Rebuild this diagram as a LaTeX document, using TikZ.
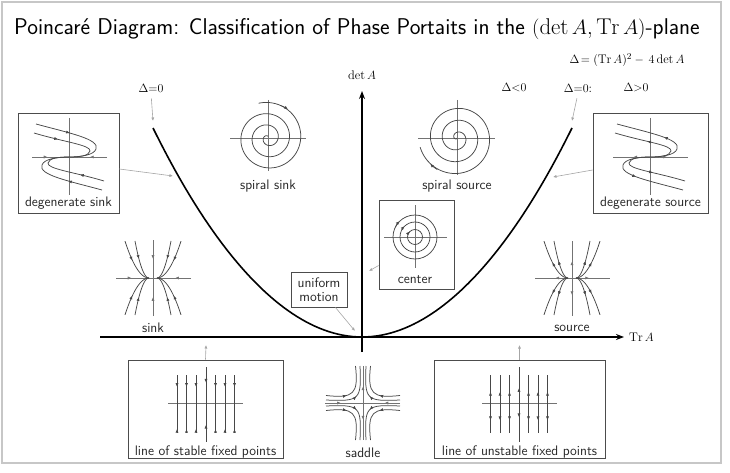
\documentclass[tikz,border=0pt]{standalone}
\usepackage{fontspec}
\usetikzlibrary{arrows.meta,decorations.markings}
\tikzset{
  >={Latex[length=3.8pt,width=3.2pt]},
  ma/.style={postaction={decorate},decoration={markings,mark=at position #1 with {\arrow{>}}}},
  mr/.style={postaction={decorate},decoration={markings,mark=at position #1 with {\arrowreversed{>}}}},
  fps/.style 2 args={postaction={decorate},decoration={markings,mark=at position #1 with {\arrow{>}},mark=at position #2 with {\arrowreversed{>}}}},
  fpu/.style 2 args={postaction={decorate},decoration={markings,mark=at position #1 with {\arrowreversed{>}},mark=at position #2 with {\arrow{>}}}},
  traj/.style={draw=black!72,line width=0.75pt},
  pax/.style={draw=black!55,line width=0.75pt},
  box/.style={draw=black!70,line width=0.8pt,inner sep=0pt},
  lbl/.style={font=\sffamily\fontsize{13.8}{15.5}\selectfont,inner sep=1pt,text=black!85},
  mlbl/.style={font=\fontsize{12.5}{14}\selectfont,inner sep=1pt},
  pointer/.style={draw=black!35,line width=0.6pt,-{Latex[length=3.5pt,width=3pt]}},
  mainax/.style={line width=1.5pt,-{Stealth[length=8pt,width=6pt]}},
}
\begin{document}
\begin{tikzpicture}[x=1pt,y=-1pt]
\useasboundingbox (0,0) rectangle (730,473);
% frame
\coordinate (frA) at (2,2); \coordinate (frB) at (721,463);
\draw[black!22,line width=1.5pt] (frA) rectangle (frB);

% title
\node[anchor=base west,font=\sffamily\fontsize{22.8}{25}\selectfont,inner sep=0pt] (title) at (14,35)
 {Poincaré Diagram: Classification of Phase Portaits in the $(\det A, \mathrm{Tr}\,A)$-plane};

% formula and labels
\node[mlbl] (delta) at (627,60) {$\Delta\!= (\mathrm{Tr}\,A)^2 -\, 4\det A$};
\node[mlbl] (detA) at (362,75) {$\det A$};
\node[mlbl] (d0L) at (151,88) {$\Delta{=}0$};
\node[mlbl] (dneg) at (514,88) {$\Delta{<}0$};
\node[mlbl] (d0R) at (578,88) {$\Delta{=}0$:};
\node[mlbl] (dpos) at (636,88) {$\Delta{>}0$};

% axes
\coordinate (O) at (362,337);
\coordinate (xL) at (100,337); \coordinate (xR) at (624,337);
\coordinate (yB) at (362,352); \coordinate (yT) at (362,91);
\draw[mainax] (xL) -- (xR);
\draw[mainax] (yB) -- (yT);
\node[mlbl,anchor=west] (trA) at (628,337) {$\mathrm{Tr}\,A$};

% parabola
\coordinate (pL0) at (153,128); \coordinate (pR0) at (572,128);
\draw[line width=1.6pt] (pL0) parabola bend (O) (pR0);

% pointers Delta=0
\coordinate (pL) at (153,121); \coordinate (pR) at (572,121);
\draw[pointer,shorten <=5pt] (d0L.south) -- (pL);
\draw[pointer,shorten <=5pt] (d0R.south) -- (pR);

% ---------- degenerate sink ----------
\node[box,minimum width=101pt,minimum height=100pt] (dsink) at (68.5,163) {};
\node[lbl] (dsinkL) at (68.5,203) {degenerate sink};
\begin{scope}[shift={(69,157)}]
  \draw[pax] (0,-39) -- (0,38);
  \draw[pax,ma=0.42] (-37,0) -- (0,0);
  \draw[pax,ma=0.45] (38,0) -- (0,0);
  \foreach \r in {0,180}{
  \begin{scope}[rotate=\r]
  \draw[traj,ma=0.36] (-33,-33) .. controls (0,-24) and (31,-18) .. (27,-8) .. controls (25,-2) and (12,0) .. (0,0);
  \draw[traj,ma=0.3] (-35,-24) .. controls (-5,-15) and (22,-12) .. (21,-6) .. controls (20,-1) and (10,0) .. (0,0);
  \end{scope}}
\end{scope}
\coordinate (dsT) at (173,176);
\draw[pointer] ([yshift=-6pt]dsink.east) -- (dsT);

% ---------- degenerate source ----------
\node[box,minimum width=115pt,minimum height=100pt] (dsrc) at (650.5,163) {};
\node[lbl] (dsrcL) at (650.5,203) {degenerate source};
\begin{scope}[shift={(650,157)}]
  \draw[pax] (0,-39) -- (0,38);
  \draw[pax,ma=0.45] (0,0) -- (-37,0);
  \draw[pax,ma=0.45] (0,0) -- (38,0);
  \foreach \r in {0,180}{
  \begin{scope}[rotate=\r]
  \draw[traj,mr=0.5] (-33,-33) .. controls (0,-24) and (31,-18) .. (27,-8) .. controls (25,-2) and (12,0) .. (0,0);
  \draw[traj,mr=0.4] (-35,-24) .. controls (-5,-15) and (22,-12) .. (21,-6) .. controls (20,-1) and (10,0) .. (0,0);
  \end{scope}}
\end{scope}
\coordinate (dsrcT) at (553,177);
\draw[pointer] ([yshift=-7pt]dsrc.west) -- (dsrcT);

% ---------- spiral sink ----------
\begin{scope}[shift={(268,138)}]
  \draw[pax] (-38,0) -- (38,0);
  \draw[pax] (0,-38) -- (0,33);
  \draw[traj] plot[domain=255:1355,samples=240]
    ({(1-(\x-255)/1150)*36*cos(\x)},{(1-(\x-255)/1150)*36*sin(\x)});
  \draw[traj,->] (292:34.9) arc[start angle=292,end angle=305,radius=34.6];
\end{scope}
\node[lbl] (ssinkL) at (268,186) {spiral sink};

% ---------- spiral source ----------
\begin{scope}[shift={(457,138)}]
  \draw[pax] (-39,0) -- (38,0);
  \draw[pax] (0,-38) -- (0,37);
  \draw[traj] plot[domain=96:1246,samples=240]
    ({((\x-96)/1150)*38*cos(\x)},{((\x-96)/1150)*38*sin(\x)});
  \draw[traj,->] (122:37.2) arc[start angle=122,end angle=136,radius=37.3];
\end{scope}
\node[lbl] (ssrcL) at (457,186) {spiral source};

% ---------- center ----------
\node[box,minimum width=75pt,minimum height=89pt] (cbox) at (416.5,244.5) {};
\node[lbl] (centerL) at (415,280) {center};
\begin{scope}[shift={(415,237)}]
  \draw[pax] (-31,0) -- (32,0);
  \draw[pax] (0,-32) -- (0,31);
  \foreach \r in {7.5,15,22}{
    \draw[traj] (0,0) circle[radius=\r];
    \draw[traj,->] (208:\r) arc[start angle=208,end angle=226,radius=\r];
  }
\end{scope}
\coordinate (cT) at (369,271);
\draw[pointer] ([yshift=-21pt]cbox.west) -- (cT);

% ---------- uniform motion ----------
\node[box,minimum width=56pt,minimum height=35pt,align=center,lbl,inner sep=0pt] (unif) at (319,289.5) {uniform\\[-2pt]motion};
\coordinate (uT) at (355,331);
\draw[pointer] ([xshift=-12pt]unif.south east) -- (uT);

% ---------- sink ----------
\begin{scope}[shift={(153,278)}]
  \draw[pax,ma=0.42] (-37,0) -- (0,0);
  \draw[pax,ma=0.42] (38,0) -- (0,0);
  \draw[pax,ma=0.5] (0,-38) -- (0,0);
  \draw[pax,ma=0.5] (0,38) -- (0,0);
  \foreach \c/\a in {0.064/28,0.189/18}{
    \draw[traj,ma=0.45] plot[domain=-\a:-4,samples=25] (\x,{-\c*(\x+4)*(\x+4)});
    \draw[traj,ma=0.45] plot[domain=\a:4,samples=25] (\x,{-\c*(\x-4)*(\x-4)});
    \draw[traj,ma=0.45] plot[domain=-\a:-4,samples=25] (\x,{\c*(\x+4)*(\x+4)});
    \draw[traj,ma=0.45] plot[domain=\a:4,samples=25] (\x,{\c*(\x-4)*(\x-4)});
  }
\end{scope}
\node[lbl] (sinkL) at (153,328) {sink};

% ---------- source ----------
\begin{scope}[shift={(572,278)}]
  \draw[pax,ma=0.45] (0,0) -- (-37,0);
  \draw[pax,ma=0.45] (0,0) -- (38,0);
  \draw[pax,ma=0.45] (0,0) -- (0,-37);
  \draw[pax,ma=0.45] (0,0) -- (0,38);
  \foreach \c/\a in {0.064/28,0.189/18}{
    \draw[traj,ma=0.5] plot[domain=-4:-\a,samples=25] (\x,{-\c*(\x+4)*(\x+4)});
    \draw[traj,ma=0.5] plot[domain=4:\a,samples=25] (\x,{-\c*(\x-4)*(\x-4)});
    \draw[traj,ma=0.5] plot[domain=-4:-\a,samples=25] (\x,{\c*(\x+4)*(\x+4)});
    \draw[traj,ma=0.5] plot[domain=4:\a,samples=25] (\x,{\c*(\x-4)*(\x-4)});
  }
\end{scope}
\node[lbl] (srcL) at (572,328) {source};

% ---------- saddle ----------
\begin{scope}[shift={(363,403)}]
  \draw[pax,ma=0.42] (-38,0) -- (0,0);
  \draw[pax,ma=0.42] (37,0) -- (0,0);
  \draw[pax,ma=0.45] (0,0) -- (0,-37);
  \draw[pax,ma=0.45] (0,0) -- (0,37);
  \foreach \sx/\sy in {1/1,1/-1,-1/1,-1/-1}{
  \begin{scope}[xscale=\sx,yscale=\sy]
    \draw[traj,ma=0.38] (37,7.5) .. controls (9,4.5) and (4.5,9) .. (7.5,37);
    \draw[traj,ma=0.5] (37,3) .. controls (3,1.5) and (1.5,3) .. (3,37);
  \end{scope}}
\end{scope}
\node[lbl] (saddleL) at (363,453) {saddle};

% ---------- line of stable fixed points ----------
\node[box,minimum width=155pt,minimum height=98pt] (stbox) at (205.5,409) {};
\node[lbl] (stL) at (205.5,452) {line of stable fixed points};
\begin{scope}[shift={(206,403)}]
  \draw[pax] (-38,0) -- (37,0);
  \foreach \xx in {-29,-19.5,-10,9.5,19,28.5}{
    \draw[traj,fps={0.205}{0.93}] (\xx,-28) -- (\xx,30);
  }
  \draw[traj,fps={0.21}{0.77}] (0,-36) -- (0,39);
\end{scope}
\coordinate (stT) at (206,345);
\draw[pointer] (stbox.north) -- (stT);

% ---------- line of unstable fixed points ----------
\node[box,minimum width=171pt,minimum height=98pt] (unbox) at (519.5,409) {};
\node[lbl] (unL) at (519.5,452) {line of unstable fixed points};
\begin{scope}[shift={(519,403)}]
  \draw[pax] (-37,0) -- (38,0);
  \foreach \xx in {-28.5,-19,-9.5,9.5,19,28.5}{
    \draw[traj,fpu={0.29}{0.78}] (\xx,-28) -- (\xx,30);
  }
  \draw[traj,fpu={0.28}{0.67}] (0,-36) -- (0,39);
\end{scope}
\coordinate (unT) at (519.5,345);
\draw[pointer] (unbox.north) -- (unT);
\end{tikzpicture}
\end{document}
